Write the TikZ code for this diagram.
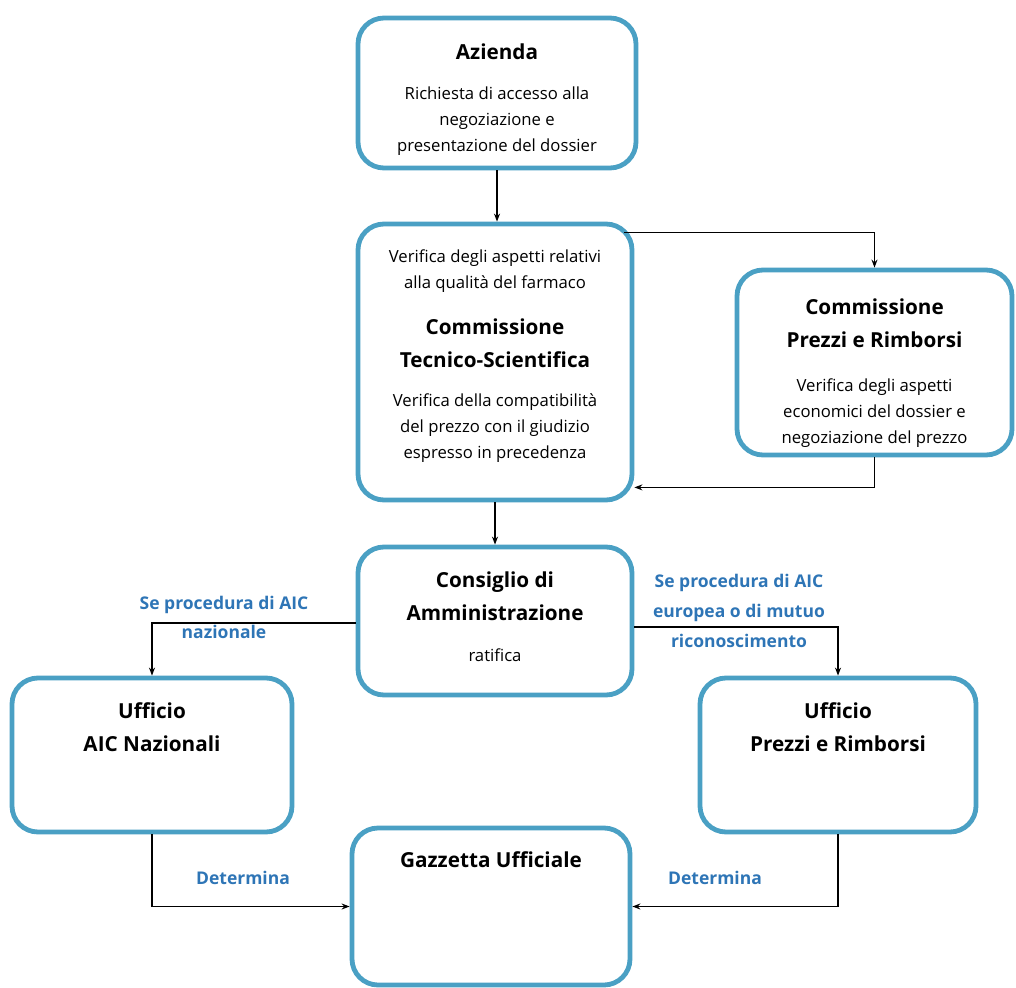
\documentclass[tikz,border=0pt]{standalone}
\usepackage{fontspec}
\setmainfont{Open Sans}
\usetikzlibrary{arrows.meta}
\definecolor{boxblue}{RGB}{74,160,196}
\definecolor{boxlight}{RGB}{140,204,226}
\definecolor{lblblue}{RGB}{46,117,182}
\begin{document}
\begin{tikzpicture}[x=1pt,y=-1pt,
  box/.style={draw=boxblue,line width=4.8pt,rounded corners=26pt,fill=white,inner sep=0pt,
    append after command={[draw=boxlight,line width=1.2pt,rounded corners=24pt]
      ([shift={(2pt,-2pt)}]\tikzlastnode.north west) rectangle ([shift={(-2pt,2pt)}]\tikzlastnode.south east)}},
  body/.style={align=center,font=\fontsize{16.7}{26}\selectfont,inner sep=0pt},
  title/.style={align=center,font=\fontsize{20.7}{33}\selectfont\bfseries,inner sep=0pt},
  lbl/.style={align=center,text=lblblue,font=\fontsize{17.5}{30}\selectfont\bfseries,inner sep=0pt},
  arr/.style={draw=black,line width=1.4pt,-{Stealth[length=8pt,width=6pt]}}]
\useasboundingbox (0,0) rectangle (1016,987);
% boxes
\node[box,minimum width=278pt,minimum height=150pt] (az) at (497,93) {};
\node[box,minimum width=274pt,minimum height=276pt] (cts) at (495,362) {};
\node[box,minimum width=275pt,minimum height=185pt] (cpr) at (874.5,362.5) {};
\node[box,minimum width=274pt,minimum height=148pt] (cda) at (495,621) {};
\node[box,minimum width=280pt,minimum height=154pt] (uaic) at (152,755) {};
\node[box,minimum width=276pt,minimum height=154pt] (upr) at (838,755) {};
\node[box,minimum width=278pt,minimum height=157pt] (gu) at (491,906.5) {};
% texts
\node[title] (azt) at (497,52) {Azienda};
\node[body] (azb) at (497,121) {Richiesta di accesso alla\\negoziazione e\\presentazione del dossier};
\node[body] (ctsb1) at (495,271.5) {Verifica degli aspetti relativi\\alla qualità del farmaco};
\node[title] (ctst) at (495,343.5) {Commissione\\Tecnico-Scientifica};
\node[body] (ctsb2) at (495,428.5) {Verifica della compatibilità\\del prezzo con il giudizio\\espresso in precedenza};
\node[title] (cprt) at (874.5,323) {Commissione\\Prezzi e Rimborsi};
\node[body] (cprb) at (874.5,413.5) {Verifica degli aspetti\\economici del dossier e\\negoziazione del prezzo};
\node[title] (cdat) at (495,596) {Consiglio di\\Amministrazione};
\node[body] (cdab) at (495,655) {ratifica};
\node[title] (uaict) at (152,727.5) {Ufficio\\AIC Nazionali};
\node[title] (uprt) at (838,727.5) {Ufficio\\Prezzi e Rimborsi};
\node[title] (gut) at (491,860) {Gazzetta Ufficiale};
% connectors
\draw[arr] (az.south) -- (az.south |- cts.north);
\draw[arr] ([xshift=-10pt,yshift=-11pt]cts.north east) -| (cpr.north);
\draw[arr] (cpr.south) |- ([yshift=15pt]cts.south east);
\draw[arr] (cts.south) -- (cda.north);
\draw[arr] ([yshift=-2pt]cda.west) -| (uaic.north);
\draw[arr] ([yshift=-6pt]cda.east) -| (upr.north);
\draw[arr] (uaic.south) |- (gu.west);
\draw[arr] (upr.south) |- (gu.east);
% labels
\node[lbl,font=\fontsize{17.5}{29}\selectfont\bfseries] (l1) at (224,617.5) {Se procedura di AIC\\nazionale};
\node[lbl] (l2) at (739,611) {Se procedura di AIC\\europea o di mutuo\\riconoscimento};
\node[lbl] (l3) at (243,878) {Determina};
\node[lbl] (l4) at (715,878) {Determina};
\end{tikzpicture}
\end{document}
